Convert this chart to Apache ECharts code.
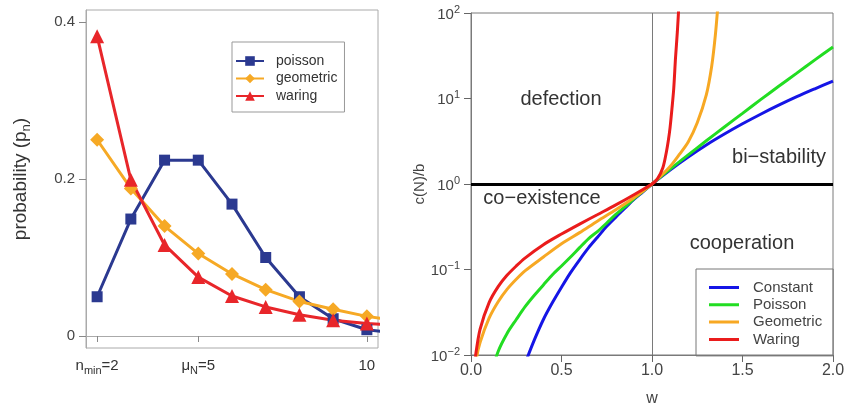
<!DOCTYPE html>
<html>
<head>
<meta charset="utf-8">
<script src="https://cdn.jsdelivr.net/npm/echarts@6/dist/echarts.min.js"></script>
<style>
html,body{margin:0;padding:0;background:#fff}
#chart{width:844px;height:403px}
</style>
</head>
<body>
<div id="chart"></div>
<script>
// left panel: group size distributions
var nValues = [2, 3, 4, 5, 6, 7, 8, 9, 10, 11];
var pPoisson = [0.050, 0.149, 0.224, 0.224, 0.168, 0.100, 0.050, 0.022, 0.008, 0.003];
var pGeometric = [0.250, 0.188, 0.140, 0.105, 0.079, 0.059, 0.044, 0.034, 0.025, 0.019];
var pWaring = [0.382, 0.199, 0.116, 0.075, 0.051, 0.037, 0.027, 0.020, 0.016, 0.013];

// right panel: c(N)/b against w
var wConstant = [0.3, 0.35, 0.4, 0.45, 0.5, 0.55, 0.6, 0.65, 0.7, 0.75, 0.8, 0.85, 0.9, 0.95, 1.0, 1.1, 1.2, 1.3, 1.4, 1.5, 1.6, 1.7, 1.8, 1.9, 2.0];
var cConstant = [0.0081, 0.015, 0.026, 0.041, 0.062, 0.092, 0.13, 0.18, 0.24, 0.32, 0.41, 0.52, 0.66, 0.81, 1.0, 1.46, 2.07, 2.86, 3.84, 5.06, 6.55, 8.35, 10.5, 13.0, 16.0];
var wPoisson = [0.1, 0.15, 0.2, 0.25, 0.3, 0.35, 0.4, 0.45, 0.5, 0.55, 0.6, 0.65, 0.7, 0.75, 0.8, 0.85, 0.9, 0.95, 1.0, 1.1, 1.2, 1.3, 1.4, 1.5, 1.6, 1.7, 1.8, 1.9, 2.0];
var cPoisson = [0.0050, 0.011, 0.018, 0.026, 0.037, 0.050, 0.066, 0.087, 0.11, 0.14, 0.18, 0.23, 0.28, 0.35, 0.44, 0.54, 0.67, 0.82, 1.0, 1.49, 2.19, 3.2, 4.65, 6.7, 9.7, 13.9, 19.8, 28.3, 40];
var wGeometric = [0.02, 0.03, 0.05, 0.1, 0.15, 0.2, 0.25, 0.3, 0.4, 0.5, 0.6, 0.7, 0.8, 0.9, 1.0, 1.05, 1.1, 1.15, 1.2, 1.25, 1.3, 1.33, 1.35, 1.365];
var cGeometric = [0.0051, 0.009, 0.014, 0.027, 0.042, 0.059, 0.077, 0.097, 0.14, 0.20, 0.27, 0.37, 0.50, 0.69, 1.0, 1.25, 1.6, 2.2, 3.1, 5.2, 11, 24, 55, 130];
var wWaring = [0.015, 0.025, 0.05, 0.1, 0.15, 0.2, 0.25, 0.3, 0.4, 0.5, 0.6, 0.7, 0.8, 0.9, 1.0, 1.03, 1.06, 1.08, 1.09, 1.1, 1.11, 1.12, 1.13, 1.14, 1.15];
var cWaring = [0.0058, 0.0097, 0.020, 0.041, 0.063, 0.086, 0.11, 0.137, 0.195, 0.26, 0.34, 0.44, 0.57, 0.75, 1.0, 1.15, 1.55, 2.4, 3.2, 4.6, 7.5, 13, 30, 60, 140];

var leftTicks = [2, 5, 10];
var probTicks = [0, 0.2, 0.4];
var decadeTicks = [0.01, 0.1, 1, 10, 100];

var FONT = 'Liberation Sans';
// plain line legend icon (tiny sliver keeps the box 12px tall)
var LINE_ICON = 'path://M0,0L0.01,0L0.01,12L0,12Z M0,4.5L30,4.5L30,7.5L0,7.5Z';

function pairs(xs, ys) {
    return xs.map(function (x, i) { return [x, ys[i]]; });
}

var chart = echarts.init(document.getElementById('chart'));

var option = {
    backgroundColor: '#fff',
    textStyle: { fontFamily: FONT },
    grid: [
        { left: 86, top: 10, width: 292, height: 338, outerBoundsMode: 'none', show: true, borderColor: '#aaa', borderWidth: 1 },
        { left: 471, top: 13, width: 362, height: 342, outerBoundsMode: 'none', show: true, borderColor: '#7a7a7a', borderWidth: 1 }
    ],
    xAxis: [
        {
            gridIndex: 0, type: 'value', min: 1.67, max: 10.33,
            splitLine: { show: false },
            axisLine: { lineStyle: { color: '#aaa' } },
            axisTick: { customValues: leftTicks, length: 6, lineStyle: { color: '#888' } },
            axisLabel: {
                customValues: leftTicks, margin: 10, color: '#333',
                formatter: function (v) {
                    if (v === 2) return '{t|n}{s|min}{t|=2}';
                    if (v === 5) return '{t|μ}{s|N}{t|=5}';
                    return '{t|10}';
                },
                rich: {
                    t: { fontSize: 15, lineHeight: 18, verticalAlign: 'top', color: '#333', fontFamily: FONT },
                    s: { fontSize: 11, lineHeight: 11, verticalAlign: 'bottom', color: '#333', fontFamily: FONT }
                }
            }
        },
        {
            gridIndex: 1, type: 'value', min: 0, max: 2, interval: 0.5,
            splitLine: { show: false },
            axisLine: { lineStyle: { color: '#7a7a7a' } },
            axisTick: { length: 7, lineStyle: { color: '#666' } },
            axisLabel: {
                fontSize: 16, color: '#444', margin: 8,
                formatter: function (v) { return v.toFixed(1); }
            },
            name: 'w', nameLocation: 'middle', nameGap: 36,
            nameTextStyle: { fontSize: 16, color: '#444' }
        }
    ],
    yAxis: [
        {
            gridIndex: 0, type: 'value', min: -0.0153, max: 0.4153,
            splitLine: { show: false },
            axisLine: { show: true, lineStyle: { color: '#aaa' } },
            axisTick: { show: true, customValues: probTicks, length: 7, lineStyle: { color: '#888' } },
            axisLabel: {
                customValues: probTicks, fontSize: 15, color: '#444', margin: 11,
                formatter: function (v) { return v === 0 ? '0' : v.toFixed(1); }
            },
            name: '{a|probability (p}{s|n}{a|)}', nameLocation: 'middle', nameGap: 53,
            nameTextStyle: {
                rich: {
                    a: { fontSize: 19, lineHeight: 22, verticalAlign: 'top', color: '#333', fontFamily: FONT },
                    s: { fontSize: 13, lineHeight: 13, verticalAlign: 'bottom', color: '#333', fontFamily: FONT }
                }
            }
        },
        {
            gridIndex: 1, type: 'log', logBase: 10, min: 0.01, max: 100,
            splitLine: { show: false },
            axisLine: { show: true, lineStyle: { color: '#7a7a7a' } },
            axisTick: { show: true, customValues: decadeTicks, length: 7, lineStyle: { color: '#666' } },
            axisLabel: {
                customValues: decadeTicks, margin: 11,
                formatter: function (v) {
                    var e = Math.round(Math.log(v) / Math.LN10);
                    return '{b|10}{e|' + (e < 0 ? '\u2212' + (-e) : e) + '}';
                },
                rich: {
                    b: { fontSize: 15, lineHeight: 18, verticalAlign: 'bottom', color: '#444', fontFamily: FONT },
                    e: { fontSize: 11, lineHeight: 11, verticalAlign: 'top', color: '#444', fontFamily: FONT }
                }
            },
            name: 'c(N)/b', nameLocation: 'middle', nameGap: 34,
            nameTextStyle: { fontSize: 15, color: '#444' }
        }
    ],
    legend: [
        {
            data: ['poisson', 'geometric', 'waring'],
            orient: 'vertical', left: 232, top: 42,
            padding: [12, 7, 9, 3], itemGap: 3.5,
            itemWidth: 28, itemHeight: 12,
            borderColor: '#999', borderWidth: 1,
            textStyle: { fontSize: 14, color: '#333', padding: [0, 0, 0, 7] }
        },
        {
            data: ['Constant', 'Poisson', 'Geometric', 'Waring'],
            orient: 'vertical', left: 696, top: 269, icon: LINE_ICON,
            padding: [11, 11, 9, 13], itemGap: 2.3,
            itemWidth: 30, itemHeight: 12,
            borderColor: '#777', borderWidth: 1,
            textStyle: { fontSize: 15, color: '#444', padding: [0, 0, 0, 9] }
        }
    ],
    graphic: [
        { type: 'text', x: 561, y: 99, style: { text: 'defection', font: '20px ' + FONT, fill: '#333', align: 'center', verticalAlign: 'middle' } },
        { type: 'text', x: 779, y: 157, style: { text: 'bi\u2212stability', font: '20px ' + FONT, fill: '#333', align: 'center', verticalAlign: 'middle' } },
        { type: 'text', x: 542, y: 198, style: { text: 'co\u2212existence', font: '20px ' + FONT, fill: '#333', align: 'center', verticalAlign: 'middle' } },
        { type: 'text', x: 742, y: 243, style: { text: 'cooperation', font: '20px ' + FONT, fill: '#333', align: 'center', verticalAlign: 'middle' } }
    ],
    series: [
        {
            name: 'poisson', type: 'line', xAxisIndex: 0, yAxisIndex: 0,
            data: pairs(nValues, pPoisson), clip: true,
            symbol: 'rect', symbolSize: 11,
            lineStyle: { width: 3, color: '#2b3990' }, itemStyle: { color: '#2b3990' }
        },
        {
            name: 'geometric', type: 'line', xAxisIndex: 0, yAxisIndex: 0,
            data: pairs(nValues, pGeometric), clip: true,
            symbol: 'diamond', symbolSize: 14,
            lineStyle: { width: 3, color: '#f6a925' }, itemStyle: { color: '#f6a925' }
        },
        {
            name: 'waring', type: 'line', xAxisIndex: 0, yAxisIndex: 0,
            data: pairs(nValues, pWaring), clip: true,
            symbol: 'triangle', symbolSize: 14,
            lineStyle: { width: 3, color: '#e8262a' }, itemStyle: { color: '#e8262a' }
        },
        {
            name: 'Constant', type: 'line', xAxisIndex: 1, yAxisIndex: 1,
            data: pairs(wConstant, cConstant), clip: true, smooth: 0.3,
            symbol: 'none', lineStyle: { width: 3, color: '#1515e6' }, itemStyle: { color: '#1515e6' },
            markLine: {
                silent: true, symbol: 'none', label: { show: false },
                data: [
                    { yAxis: 1, lineStyle: { color: '#000', width: 3, type: 'solid' } },
                    { xAxis: 1, lineStyle: { color: '#7a7a7a', width: 1, type: 'solid' } }
                ]
            },
            z: 3
        },
        {
            name: 'Poisson', type: 'line', xAxisIndex: 1, yAxisIndex: 1,
            data: pairs(wPoisson, cPoisson), clip: true, smooth: 0.3,
            symbol: 'none', lineStyle: { width: 3, color: '#22dd22' }, itemStyle: { color: '#22dd22' }, z: 4
        },
        {
            name: 'Geometric', type: 'line', xAxisIndex: 1, yAxisIndex: 1,
            data: pairs(wGeometric, cGeometric), clip: true, smooth: 0.3,
            symbol: 'none', lineStyle: { width: 3, color: '#f7a823' }, itemStyle: { color: '#f7a823' }, z: 5
        },
        {
            name: 'Waring', type: 'line', xAxisIndex: 1, yAxisIndex: 1,
            data: pairs(wWaring, cWaring), clip: true, smooth: 0.3,
            symbol: 'none', lineStyle: { width: 3, color: '#ea1c1c' }, itemStyle: { color: '#ea1c1c' }, z: 6
        }
    ]
};

chart.setOption(option);
</script>
</body>
</html>
